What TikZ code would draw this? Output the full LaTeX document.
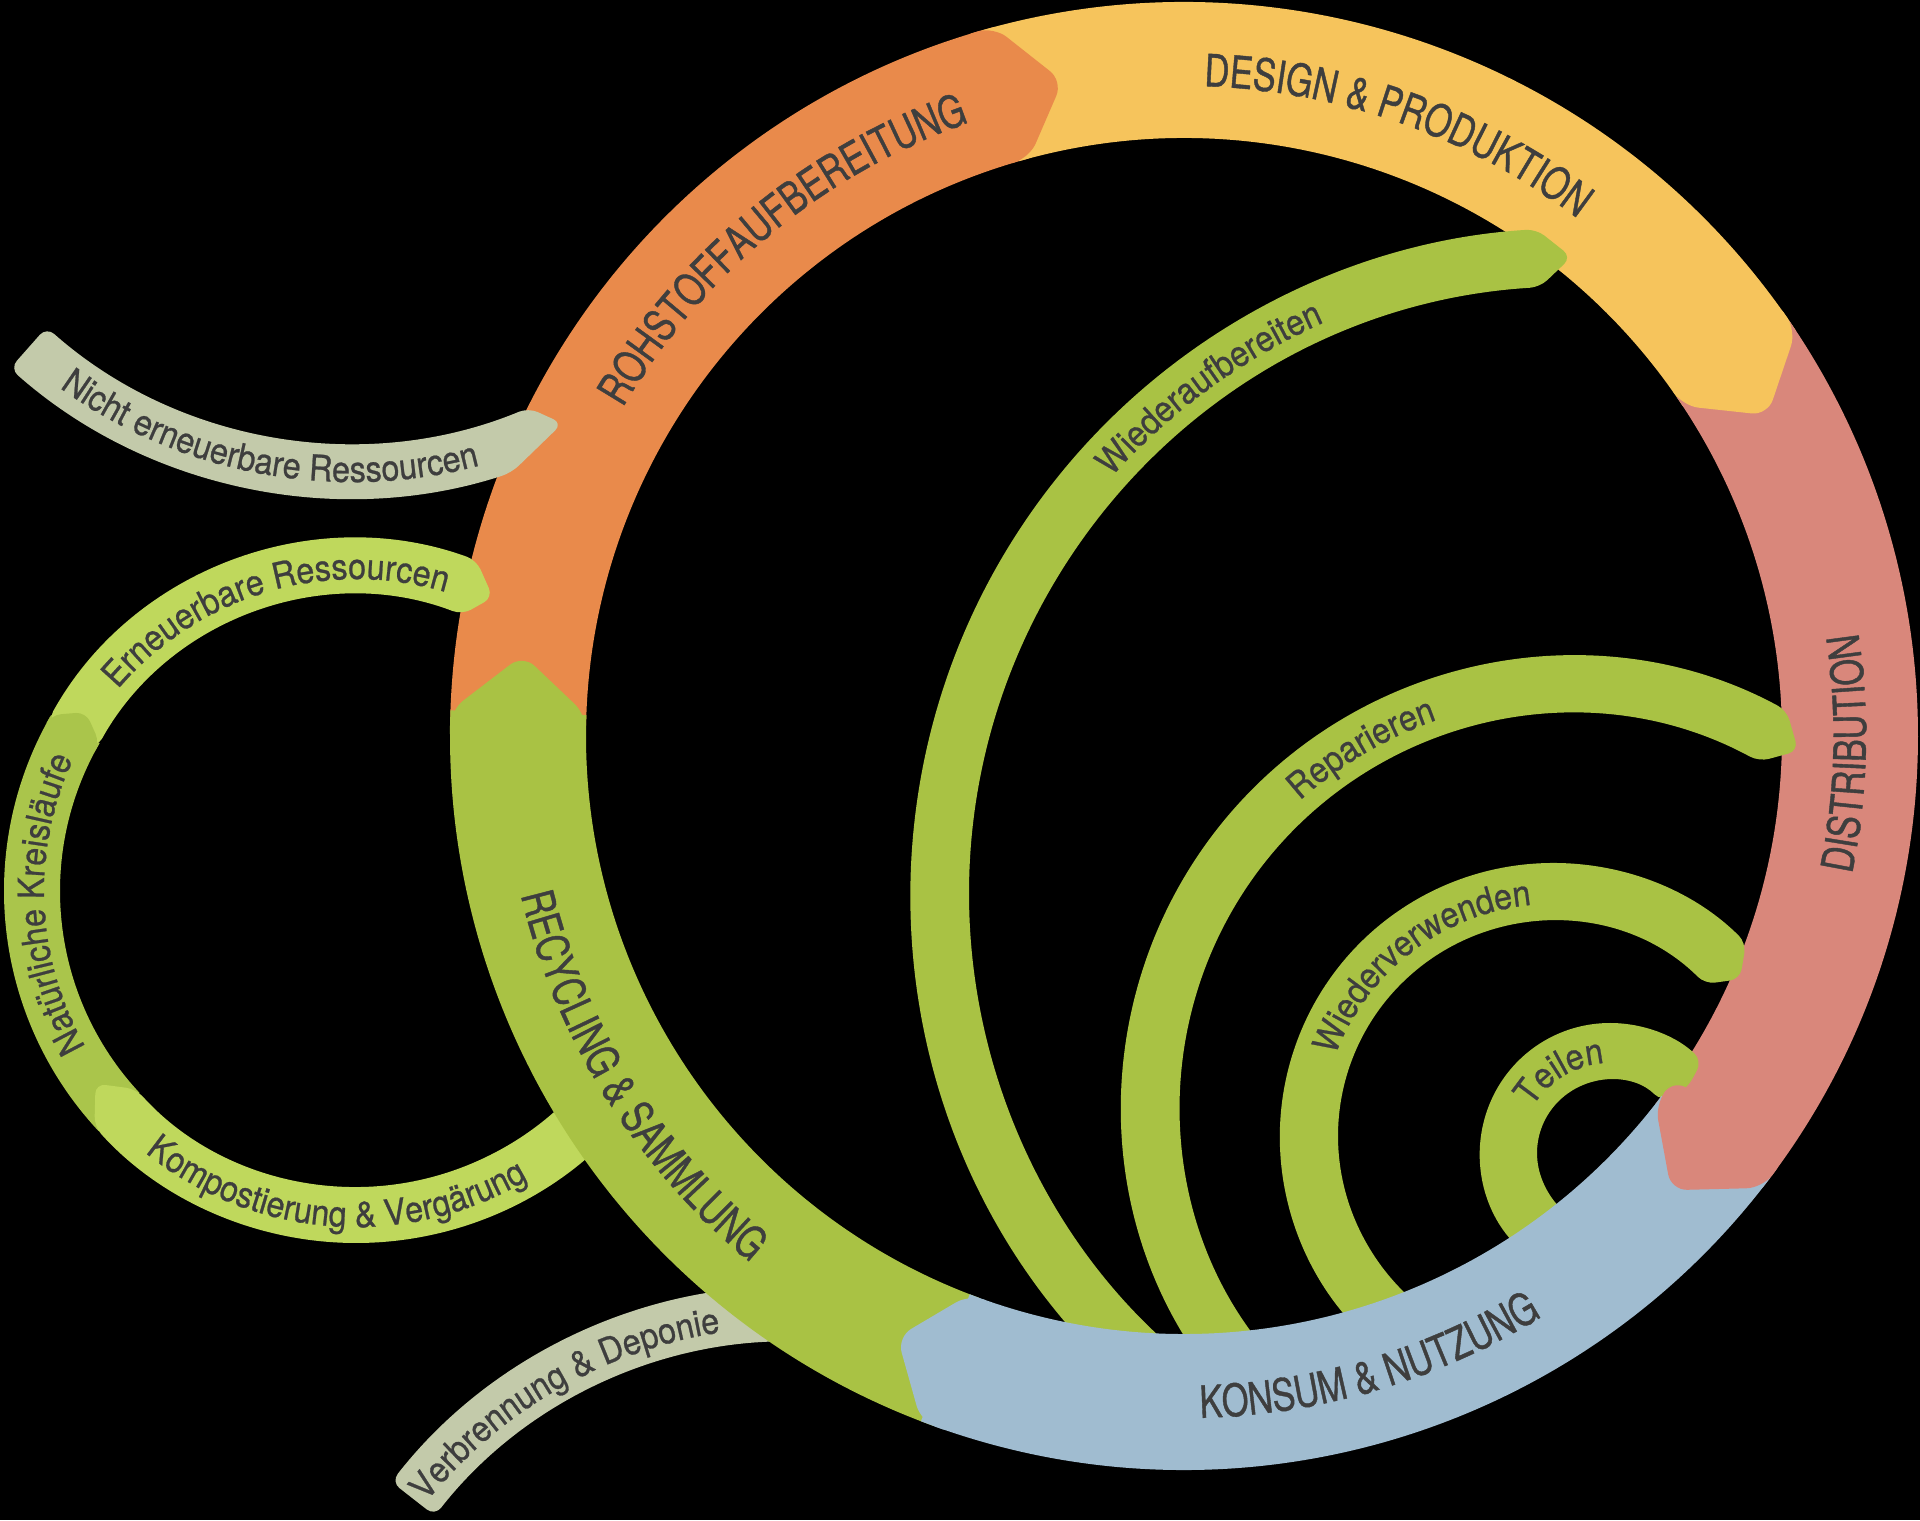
\documentclass[tikz,border=0pt]{standalone}
\usepackage{fontspec}
\setmainfont{TeX Gyre Heros}
\newfontfamily\ringfont[FakeStretch=0.77, FakeBold=0.9]{TeX Gyre Heros}
\newfontfamily\loopfont[FakeStretch=0.9, FakeBold=0.7]{TeX Gyre Heros}
\usepackage{xcolor}
\usepackage{tikz}
\usetikzlibrary{decorations.text}
\definecolor{LoopOrange}{RGB}{233, 138, 75}
\definecolor{LoopYellow}{RGB}{246, 196, 92}
\definecolor{LoopRed}{RGB}{217, 135, 123}
\definecolor{LoopBlue}{RGB}{160, 188, 208}
\definecolor{LoopGreen}{RGB}{169, 194, 68}
\definecolor{LoopLight}{RGB}{191, 216, 92}
\definecolor{LoopMoss}{RGB}{170, 197, 75}
\definecolor{LoopGrey}{RGB}{195, 202, 170}
\definecolor{LoopText}{RGB}{62, 62, 62}
\newcommand\biglabel{\ringfont\fontsize{22.3}{26}\selectfont}
\newcommand\smalllabel{\loopfont\fontsize{18}{21}\selectfont}
\tikzset{
  ringtext/.style={decorate, decoration={text along path, text align=center, text color=LoopText, text={|\biglabel|#1}}},
  looptext/.style={decorate, decoration={text along path, text align=center, text color=LoopText, text={|\smalllabel|#1}}},
  bandend/.style={rounded corners=5pt},
  ringend/.style={rounded corners=8pt}
}

\begin{document}
\begin{tikzpicture}[x=0.5pt,y=0.5pt]
  \path[use as bounding box] (0,0) rectangle (1920,1520);
  \fill[black] (0,0) rectangle (1920,1520);

  % Verbrennung & Deponie
  \begin{scope}[shift={(791,-274)}]
    \fill[LoopGrey, bandend] (85:507) arc[start angle=85, end angle=142, radius=507] -- (142:452) arc[start angle=142, end angle=85, radius=452] -- cycle;
    \path[looptext={Verbrennung {\&} Deponie}] (160:467) arc[start angle=160, end angle=80, radius=467];
  \end{scope}

  % small loop, lower part
  \begin{scope}[shift={(356,629)}]
    \fill[LoopMoss] (223:352) arc[start angle=223, end angle=150, radius=352] -- (150:296) arc[start angle=150, end angle=223, radius=296] -- cycle;
    \fill[LoopLight, bandend] (328:352) arc[start angle=328, end angle=222, radius=352] -- (216.5:324) -- (222:296) arc[start angle=222, end angle=328, radius=296] -- cycle;
  \end{scope}

  % big ring, bands
  \begin{scope}[shift={(1184,784)}]
    \fill[LoopOrange] (179:734) arc[start angle=179, end angle=105, radius=734] -- (105:598) arc[start angle=105, end angle=179, radius=598] -- cycle;
    \fill[LoopYellow] (106:734) arc[start angle=106, end angle=33.5, radius=734] -- (33.5:598) arc[start angle=33.5, end angle=106, radius=598] -- cycle;
    \fill[LoopRed] (34.5:734) arc[start angle=34.5, end angle=-38, radius=734] -- (-38:598) arc[start angle=-38, end angle=34.5, radius=598] -- cycle;
    \fill[LoopGreen] (-110:734) arc[start angle=-110, end angle=-182, radius=734] -- (-182:598) arc[start angle=-182, end angle=-110, radius=598] -- cycle;
  \end{scope}

  % inner loops
  \begin{scope}[shift={(1577,626)}]
    \fill[LoopGreen, bandend] (230:666) arc[start angle=230, end angle=93.5, radius=666] -- (90.5:637) -- (93.5:608) arc[start angle=93.5, end angle=230, radius=608] -- cycle;
    \path[looptext={Wiederaufbereiten}] (156:625) arc[start angle=156, end angle=96, radius=625];
  \end{scope}
  \begin{scope}[shift={(1572,414)}]
    \fill[LoopGreen, bandend] (218:450) arc[start angle=218, end angle=61.5, radius=450] -- (57.5:421) -- (61.5:392) arc[start angle=61.5, end angle=218, radius=392] -- cycle;
    \path[looptext={Reparieren}] (150:409) arc[start angle=150, end angle=91, radius=409];
  \end{scope}
  \begin{scope}[shift={(1553,384)}]
    \fill[LoopGreen, bandend] (248:273) arc[start angle=248, end angle=45, radius=273] -- (40:244) -- (45:215) arc[start angle=45, end angle=248, radius=215] -- cycle;
    \path[looptext={Wiederverwenden}] (172:232) arc[start angle=172, end angle=83, radius=232];
  \end{scope}
  \begin{scope}[shift={(1610,367)}]
    \fill[LoopGreen, bandend] (240:130) arc[start angle=240, end angle=45, radius=130] -- (40:101) -- (45:73) arc[start angle=45, end angle=240, radius=73] -- cycle;
    \path[looptext={Teilen}] (166:90) arc[start angle=166, end angle=77, radius=90];
  \end{scope}

  % big ring, Konsum band and the band ends
  \begin{scope}[shift={(1184,784)}]
    \fill[LoopBlue] (-37:734) arc[start angle=-37, end angle=-111, radius=734] -- (-111:598) arc[start angle=-111, end angle=-37, radius=598] -- cycle;
    \fill[LoopOrange, ringend] (108:734) arc[start angle=108, end angle=105, radius=734] -- (100.5:666) -- (105:598) arc[start angle=105, end angle=108, radius=598] -- cycle;
    \fill[LoopYellow, ringend] (36.5:734) arc[start angle=36.5, end angle=33.5, radius=734] -- (28.8:666) -- (33.5:598) arc[start angle=33.5, end angle=36.5, radius=598] -- cycle;
    \fill[LoopRed, ringend] (-35:734) arc[start angle=-35, end angle=-38, radius=734] -- (-43:666) -- (-38:598) arc[start angle=-38, end angle=-35, radius=598] -- cycle;
    \fill[LoopBlue, ringend] (-108:734) arc[start angle=-108, end angle=-111, radius=734] -- (-115.5:666) -- (-111:598) arc[start angle=-111, end angle=-108, radius=598] -- cycle;
    \fill[LoopGreen, ringend] (-179:734) arc[start angle=-179, end angle=-182, radius=734] -- (-187:666) -- (-182:598) arc[start angle=-182, end angle=-179, radius=598] -- cycle;

    \path[ringtext={ROHSTOFFAUFBEREITUNG}] (170:650) arc[start angle=170, end angle=89, radius=650];
    \path[ringtext={DESIGN {\&} PRODUKTION}] (110:650) arc[start angle=110, end angle=31, radius=650];
    \path[ringtext={DISTRIBUTION}] (-40:682) arc[start angle=-40, end angle=37, radius=682];
    \path[ringtext={KONSUM {\&} NUTZUNG}] (-112:682) arc[start angle=-112, end angle=-35, radius=682];
    \path[ringtext={RECYCLING {\&} SAMMLUNG}] (172:682) arc[start angle=172, end angle=252, radius=682];
  \end{scope}

  % Nicht erneuerbare Ressourcen
  \begin{scope}[shift={(352,1538)}]
    \fill[LoopGrey, bandend] (228.5:516) arc[start angle=228.5, end angle=288, radius=516] -- (295.5:489) -- (292.5:461) arc[start angle=292.5, end angle=228.5, radius=461] -- cycle;
    \path[looptext={Nicht erneuerbare Ressourcen}] (215:500) arc[start angle=215, end angle=304, radius=500];
  \end{scope}

  % small loop, upper part
  \begin{scope}[shift={(356,629)}]
    \fill[LoopLight, bandend] (151:352) arc[start angle=151, end angle=70, radius=352] -- (65:324) -- (69:296) arc[start angle=69, end angle=151, radius=296] -- cycle;
    \fill[LoopMoss, bandend] (152:352) arc[start angle=152, end angle=150, radius=352] -- (146.5:324) -- (150:296) arc[start angle=150, end angle=152, radius=296] -- cycle;
    \path[looptext={Erneuerbare Ressourcen}] (160:312) arc[start angle=160, end angle=53, radius=312];
    \path[looptext={Natürliche Kreisläufe}] (225:312) arc[start angle=225, end angle=140, radius=312];
    \path[looptext={Kompostierung {\&} Vergärung}] (215:336) arc[start angle=215, end angle=317, radius=336];
  \end{scope}
\end{tikzpicture}
\end{document}
